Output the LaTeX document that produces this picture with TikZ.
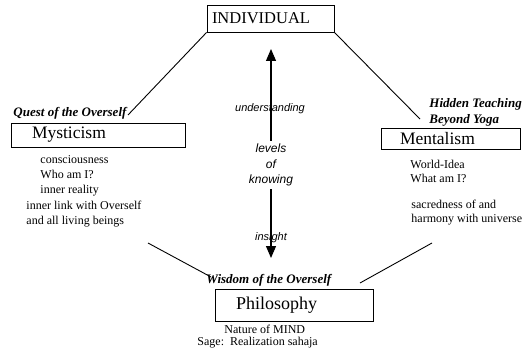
\documentclass[tikz,border=0pt]{standalone}
\usepackage{fontspec}
\setmainfont{Liberation Serif}
\setsansfont{Liberation Sans}
\usetikzlibrary{arrows.meta}

\begin{document}
\begin{tikzpicture}[x=1pt,y=-1pt,line width=0.9pt]
    \tikzstyle{field}=[draw=black,line width=0.9pt,inner ysep=0pt,align=left]
    \tikzstyle{heading}=[anchor=base west,inner sep=0pt,align=left,font=\fontsize{13}{16}\selectfont\bfseries\itshape]
    \tikzstyle{note}=[anchor=base west,inner sep=0pt,align=left,font=\fontsize{12}{15}\selectfont]
    \tikzstyle{level}=[inner sep=0pt,align=center,font=\fontsize{11}{14}\selectfont\sffamily\itshape]
    \tikzstyle{tip}=[{Triangle[width=10pt,length=12pt]}-{Triangle[width=10pt,length=12pt]}]

    \useasboundingbox (0,0) rectangle (527,350);

    % Boxes
    \node[field,text width=117pt,inner xsep=5pt,minimum height=27pt,font=\fontsize{16.5}{17}\selectfont] (IND) at (270.5,18.5) {INDIVIDUAL};
    \node[field,text width=132pt,inner xsep=21pt,minimum height=24pt,font=\fontsize{17.5}{18}\selectfont] (MYS) at (98,135) {Mysticism};
    \node[field,text width=101pt,inner xsep=19pt,minimum height=21pt,font=\fontsize{17.5}{18}\selectfont] (MEN) at (450.5,138.5) {Mentalism};
    \node[field,text width=116pt,inner xsep=21pt,minimum height=32pt,font=\fontsize{18}{18}\selectfont] (PHIL) at (294,305) {Philosophy};

    % Headings (base = last line)
    \node[heading] (quest) at (13,117) {Quest of the Overself};
    \node[heading] (hidden) at (429,124) {Hidden Teaching\\Beyond Yoga};
    \node[heading] (wisdom) at (206,283) {Wisdom of the Overself};

    % Notes under the boxes
    \node[note] (mysA) at (40,193) {consciousness\\Who am I?\\inner reality};
    \node[note] (mysB) at (26,224) {inner link with Overself\\and all living beings};
    \node[note,font=\fontsize{12}{14}\selectfont] (menA) at (410,182) {World-Idea\\What am I?};
    \node[note,font=\fontsize{12}{14}\selectfont] (menB) at (411,222) {sacredness of and\\harmony with universe};
    \node[note] (mind) at (224,333) {Nature of MIND};
    \node[note] (sage) at (197,345) {Sage:\ \ Realization sahaja};

    % Levels of knowing
    \coordinate (up) at (271,49);
    \coordinate (down) at (271,258);
    \draw[tip,line width=1.1pt] (up) -- node[pos=0.555,fill=white,level,inner ysep=3pt,font=\fontsize{12}{15.5}\selectfont\sffamily\itshape] (know) {levels\\of\\knowing} (down);
    \node[level] (under) at (270,109) {understanding};
    \node[level] (insight) at (271,238) {insight};

    % Connecting lines
    \coordinate (mysTop) at (128,115);
    \coordinate (menTop) at (420,119);
    \coordinate (mysLow) at (148,243);
    \coordinate (philL) at (211,277);
    \coordinate (menLow) at (432,243);
    \coordinate (philR) at (360,283);
    \draw (IND.south west) -- (mysTop);
    \draw (IND.south east) -- (menTop);
    \draw (mysLow) -- (philL);
    \draw (menLow) -- (philR);

\end{tikzpicture}
\end{document}
